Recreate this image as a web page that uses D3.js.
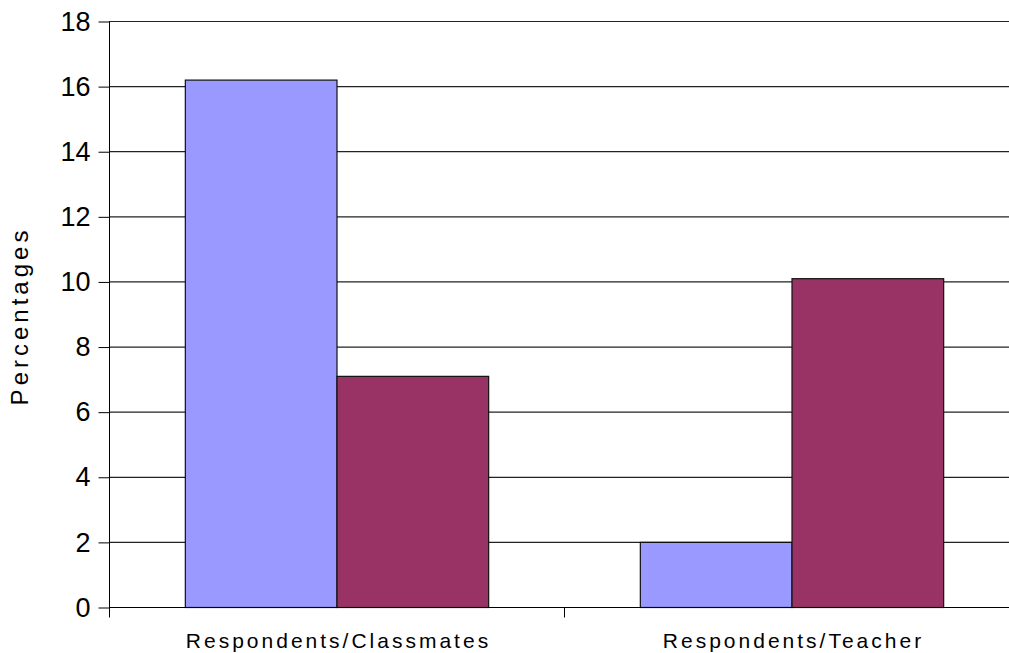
<!DOCTYPE html>
<html>
<head>
<meta charset="utf-8">
<script src="https://cdn.jsdelivr.net/npm/d3@7"></script>
<style>
  html, body { margin: 0; padding: 0; background: #fff; }
  svg { display: block; font-family: "Liberation Sans", Arial, sans-serif; }
</style>
</head>
<body>
<svg id="chart" width="1009" height="653"></svg>
<script>
// Chart data
const categories = ["Respondents/Classmates", "Respondents/Teacher"];
const seriesNames = ["Series A", "Series B"];
const seriesA = [16.2, 2.0];
const seriesB = [7.1, 10.1];
const yTicks = [0, 2, 4, 6, 8, 10, 12, 14, 16, 18];
const colors = ["#9999FF", "#993366"];

(function () {
const svg = d3.select("#chart");
const plotLeft = 109, plotRight = 1019, plotTop = 21, plotBottom = 607;

const x = d3.scaleBand().domain(categories).range([plotLeft, plotRight]).paddingInner(0).paddingOuter(0);
const inner = d3.scaleBand().domain(seriesNames).range([0, x.bandwidth()]).paddingInner(0).paddingOuter(0.5);
const y = d3.scaleLinear().domain([0, 18]).range([plotBottom, plotTop]);

// Horizontal gridlines
svg.append("g")
  .selectAll("line")
  .data(yTicks.filter(d => d > 0))
  .join("line")
  .attr("x1", plotLeft).attr("x2", plotRight)
  .attr("y1", d => y(d) + 0.5).attr("y2", d => y(d) + 0.5)
  .attr("stroke", "#222").attr("stroke-width", 1.2);

// Bars
const rows = categories.map((c, i) => ({ cat: c, vals: [seriesA[i], seriesB[i]] }));
const groups = svg.append("g").selectAll("g").data(rows).join("g")
  .attr("transform", d => `translate(${x(d.cat)},0)`);
groups.selectAll("rect")
  .data(d => d.vals.map((v, j) => ({ v, j })))
  .join("rect")
  .attr("x", d => inner(seriesNames[d.j]) + 0.5)
  .attr("width", inner.bandwidth())
  .attr("y", d => y(d.v) + 0.5)
  .attr("height", d => y(0) - y(d.v))
  .attr("fill", d => colors[d.j])
  .attr("stroke", "#111").attr("stroke-width", 1.2);

// Y axis
const yAxis = d3.axisLeft(y).tickValues(yTicks).tickSize(11).tickPadding(8).tickFormat(d3.format("d"));
const gy = svg.append("g").attr("transform", `translate(${plotLeft + 0.5},0.5)`).call(yAxis);
gy.select(".domain").attr("d", `M0,${plotTop}V${plotBottom}`).attr("stroke", "#000");
gy.selectAll(".tick line").attr("stroke", "#000");
gy.selectAll(".tick text")
  .attr("font-size", 27)
  .attr("fill", "#000")
  .attr("font-family", "Liberation Sans, Arial, sans-serif");

// X axis
const gx = svg.append("g").attr("transform", `translate(0,${plotBottom + 0.5})`);
gx.append("line").attr("x1", plotLeft).attr("x2", plotRight).attr("stroke", "#000");
const boundaries = [plotLeft, x(categories[1]), plotRight];
gx.selectAll("line.tk").data(boundaries).join("line").attr("class", "tk")
  .attr("x1", d => d + 0.5).attr("x2", d => d + 0.5)
  .attr("y1", 0).attr("y2", 10).attr("stroke", "#000");
gx.selectAll("text").data(categories).join("text")
  .attr("x", d => x(d) + x.bandwidth() / 2 + 2)
  .attr("y", 40)
  .attr("text-anchor", "middle")
  .attr("font-size", 21)
  .attr("letter-spacing", "3px")
  .attr("fill", "#000")
  .text(d => d);

// Y axis title
svg.append("text")
  .attr("transform", "translate(28,316) rotate(-90)")
  .attr("text-anchor", "middle")
  .attr("font-size", 24)
  .attr("letter-spacing", "4px")
  .attr("fill", "#000")
  .text("Percentages");
})();
</script>
</body>
</html>
